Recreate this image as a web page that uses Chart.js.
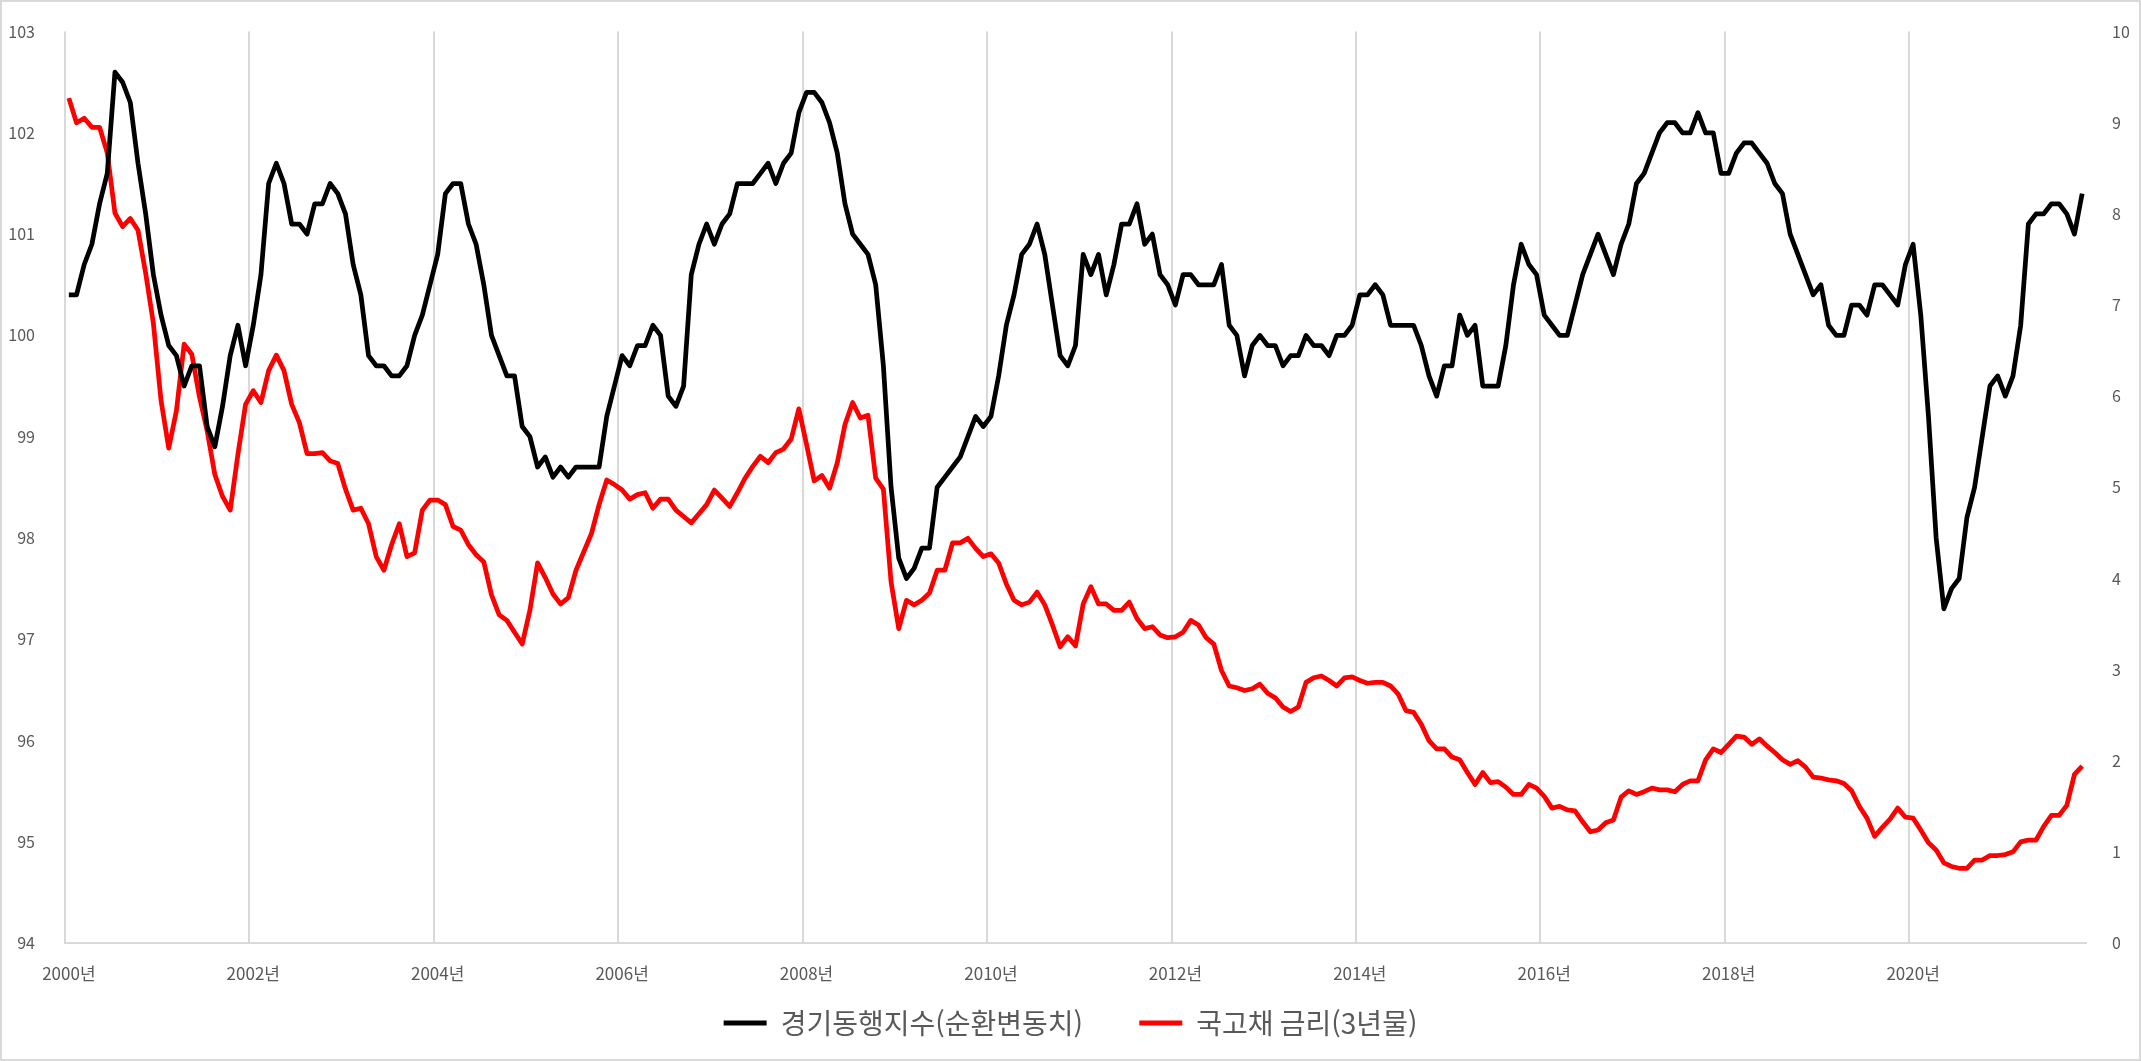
<!DOCTYPE html>
<html lang="ko">
<head>
<meta charset="utf-8">
<title>경기동행지수와 국고채 금리</title>
<script src="https://cdn.jsdelivr.net/npm/chart.js@4.4.1/dist/chart.umd.min.js"></script>
<style>
  html, body { margin: 0; padding: 0; background: #fff; }
  .chart-wrap { position: relative; width: 2141px; height: 1061px; }
  .chart-wrap canvas { position: absolute; left: 0; top: 0; }
  .frame { position: absolute; inset: 0; border: 2px solid #d9d9d9; pointer-events: none; }
</style>
</head>
<body>
<div class="chart-wrap">
  <canvas id="chart" width="2141" height="1061"></canvas>
  <div class="frame"></div>
</div>
<script>
// monthly, 2000-01 .. 2021-11
const startYear = 2000;

// 경기동행지수 순환변동치 (left axis)
const compositeIndex = [
  100.4, 100.4, 100.7, 100.9, 101.3, 101.6, 102.6, 102.5, 102.3, 101.7, 101.2, 100.6, // 2000
  100.2, 99.9, 99.8, 99.5, 99.7, 99.7, 99.1, 98.9, 99.3, 99.8, 100.1, 99.7,           // 2001
  100.1, 100.6, 101.5, 101.7, 101.5, 101.1, 101.1, 101.0, 101.3, 101.3, 101.5, 101.4, // 2002
  101.2, 100.7, 100.4, 99.8, 99.7, 99.7, 99.6, 99.6, 99.7, 100.0, 100.2, 100.5,       // 2003
  100.8, 101.4, 101.5, 101.5, 101.1, 100.9, 100.5, 100.0, 99.8, 99.6, 99.6, 99.1,     // 2004
  99.0, 98.7, 98.8, 98.6, 98.7, 98.6, 98.7, 98.7, 98.7, 98.7, 99.2, 99.5,             // 2005
  99.8, 99.7, 99.9, 99.9, 100.1, 100.0, 99.4, 99.3, 99.5, 100.6, 100.9, 101.1,        // 2006
  100.9, 101.1, 101.2, 101.5, 101.5, 101.5, 101.6, 101.7, 101.5, 101.7, 101.8, 102.2, // 2007
  102.4, 102.4, 102.3, 102.1, 101.8, 101.3, 101.0, 100.9, 100.8, 100.5, 99.7, 98.5,   // 2008
  97.8, 97.6, 97.7, 97.9, 97.9, 98.5, 98.6, 98.7, 98.8, 99.0, 99.2, 99.1,             // 2009
  99.2, 99.6, 100.1, 100.4, 100.8, 100.9, 101.1, 100.8, 100.3, 99.8, 99.7, 99.9,      // 2010
  100.8, 100.6, 100.8, 100.4, 100.7, 101.1, 101.1, 101.3, 100.9, 101.0, 100.6, 100.5, // 2011
  100.3, 100.6, 100.6, 100.5, 100.5, 100.5, 100.7, 100.1, 100.0, 99.6, 99.9, 100.0,   // 2012
  99.9, 99.9, 99.7, 99.8, 99.8, 100.0, 99.9, 99.9, 99.8, 100.0, 100.0, 100.1,         // 2013
  100.4, 100.4, 100.5, 100.4, 100.1, 100.1, 100.1, 100.1, 99.9, 99.6, 99.4, 99.7,     // 2014
  99.7, 100.2, 100.0, 100.1, 99.5, 99.5, 99.5, 99.9, 100.5, 100.9, 100.7, 100.6,      // 2015
  100.2, 100.1, 100.0, 100.0, 100.3, 100.6, 100.8, 101.0, 100.8, 100.6, 100.9, 101.1, // 2016
  101.5, 101.6, 101.8, 102.0, 102.1, 102.1, 102.0, 102.0, 102.2, 102.0, 102.0, 101.6, // 2017
  101.6, 101.8, 101.9, 101.9, 101.8, 101.7, 101.5, 101.4, 101.0, 100.8, 100.6, 100.4, // 2018
  100.5, 100.1, 100.0, 100.0, 100.3, 100.3, 100.2, 100.5, 100.5, 100.4, 100.3, 100.7, // 2019
  100.9, 100.2, 99.2, 98.0, 97.3, 97.5, 97.6, 98.2, 98.5, 99.0, 99.5, 99.6,           // 2020
  99.4, 99.6, 100.1, 101.1, 101.2, 101.2, 101.3, 101.3, 101.2, 101.0, 101.4           // 2021
];

// 국고채 금리 3년물, % (right axis)
const bondYield = [
  9.27, 9.0, 9.05, 8.95, 8.95, 8.67, 8.01, 7.86, 7.95, 7.82, 7.35, 6.8,   // 2000
  5.95, 5.43, 5.84, 6.57, 6.46, 5.99, 5.62, 5.14, 4.9, 4.75, 5.36, 5.91,  // 2001
  6.06, 5.93, 6.28, 6.45, 6.28, 5.91, 5.71, 5.37, 5.37, 5.38, 5.29, 5.26, // 2002
  4.98, 4.75, 4.77, 4.6, 4.24, 4.09, 4.37, 4.6, 4.24, 4.28, 4.75, 4.86,   // 2003
  4.86, 4.81, 4.57, 4.53, 4.37, 4.26, 4.18, 3.82, 3.6, 3.54, 3.41, 3.28,  // 2004
  3.65, 4.17, 4.01, 3.83, 3.72, 3.79, 4.09, 4.29, 4.49, 4.81, 5.08, 5.03, // 2005
  4.97, 4.87, 4.92, 4.94, 4.77, 4.87, 4.87, 4.75, 4.68, 4.61, 4.71, 4.81, // 2006
  4.97, 4.88, 4.79, 4.94, 5.1, 5.23, 5.34, 5.27, 5.38, 5.42, 5.53, 5.86,  // 2007
  5.47, 5.07, 5.13, 4.99, 5.27, 5.69, 5.93, 5.76, 5.79, 5.1, 4.98, 3.96,  // 2008
  3.45, 3.76, 3.71, 3.76, 3.84, 4.09, 4.09, 4.39, 4.39, 4.44, 4.33, 4.24, // 2009
  4.27, 4.17, 3.94, 3.76, 3.71, 3.74, 3.85, 3.71, 3.49, 3.25, 3.36, 3.26, // 2010
  3.72, 3.91, 3.72, 3.72, 3.65, 3.65, 3.74, 3.56, 3.45, 3.47, 3.38, 3.35, // 2011
  3.36, 3.41, 3.54, 3.49, 3.35, 3.28, 2.99, 2.82, 2.8, 2.77, 2.79, 2.84,  // 2012
  2.74, 2.69, 2.59, 2.54, 2.59, 2.86, 2.91, 2.93, 2.88, 2.82, 2.91, 2.92, // 2013
  2.88, 2.85, 2.86, 2.86, 2.82, 2.73, 2.55, 2.53, 2.4, 2.22, 2.13, 2.13,  // 2014
  2.04, 2.01, 1.87, 1.74, 1.87, 1.76, 1.77, 1.71, 1.63, 1.63, 1.74, 1.7,  // 2015
  1.61, 1.48, 1.5, 1.46, 1.45, 1.33, 1.22, 1.24, 1.32, 1.35, 1.6, 1.67,   // 2016
  1.63, 1.66, 1.7, 1.68, 1.68, 1.66, 1.74, 1.78, 1.78, 2.01, 2.13, 2.09,  // 2017
  2.18, 2.27, 2.26, 2.18, 2.24, 2.16, 2.09, 2.01, 1.96, 2.0, 1.93, 1.82,  // 2018
  1.81, 1.79, 1.78, 1.75, 1.67, 1.5, 1.37, 1.17, 1.27, 1.36, 1.48, 1.38,  // 2019
  1.37, 1.24, 1.1, 1.02, 0.88, 0.84, 0.82, 0.82, 0.91, 0.91, 0.96, 0.96,  // 2020
  0.97, 1.0, 1.11, 1.13, 1.13, 1.28, 1.4, 1.4, 1.51, 1.85, 1.94           // 2021
];

const seriesNames = ['경기동행지수(순환변동치)', '국고채 금리(3년물)'];

const monthLabels = compositeIndex.map((_, i) =>
  `${startYear + Math.floor(i / 12)}-${String((i % 12) + 1).padStart(2, '0')}`
);

const FONT = '"Noto Sans CJK KR", "Noto Sans", sans-serif';
const TEXT = '#595959';
const GRID = '#d9d9d9';

Chart.defaults.font.family = FONT;
Chart.defaults.color = TEXT;

const ctx = document.getElementById('chart').getContext('2d');

new Chart(ctx, {
  type: 'line',
  data: {
    labels: monthLabels,
    datasets: [
      {
        label: seriesNames[0],
        data: compositeIndex,
        yAxisID: 'y',
        borderColor: '#000000',
        backgroundColor: '#000000',
        borderWidth: 4.75,
        borderJoinStyle: 'round',
        pointRadius: 0,
        tension: 0,
      },
      {
        label: seriesNames[1],
        data: bondYield,
        yAxisID: 'y1',
        borderColor: '#ff0000',
        backgroundColor: '#ff0000',
        borderWidth: 4.75,
        borderJoinStyle: 'round',
        pointRadius: 0,
        tension: 0,
      },
    ],
  },
  options: {
    responsive: false,
    animation: false,
    devicePixelRatio: 1,
    layout: {
      padding: { top: 23, left: 0, right: 0, bottom: 14 },
    },
    scales: {
      x: {
        type: 'category',
        offset: true,
        grid: {
          offset: true,
          drawTicks: false,
          lineWidth: 2,
          // only one line every two years
          color: (c) => (c.index !== undefined && c.index % 24 === 0 ? GRID : 'rgba(0,0,0,0)'),
        },
        border: { color: GRID, width: 2 },
        ticks: {
          autoSkip: false,
          maxRotation: 0,
          minRotation: 0,
          padding: 20,
          color: TEXT,
          font: { size: 17 },
          callback: (value, index) => (index % 24 === 0 ? monthLabels[index].slice(0, 4) + '년' : ''),
        },
        afterFit: (scale) => {
          scale.height = 41;
        },
      },
      y: {
        position: 'left',
        min: 94,
        max: 103,
        grid: { display: false },
        border: { display: false },
        ticks: { stepSize: 1, padding: 22, color: TEXT, font: { size: 16 } },
        afterFit: (scale) => {
          scale.width = 65;
        },
      },
      y1: {
        position: 'right',
        min: 0,
        max: 10,
        grid: { display: false },
        border: { display: false },
        ticks: { stepSize: 1, padding: 18, color: TEXT, font: { size: 16 } },
        afterFit: (scale) => {
          scale.width = 55;
        },
      },
    },
    plugins: {
      legend: {
        position: 'bottom',
        labels: {
          boxWidth: 43,
          boxHeight: 5,
          padding: 25,
          color: TEXT,
          font: { size: 28 },
          generateLabels: (chart) =>
            Chart.defaults.plugins.legend.labels.generateLabels(chart).map((item, i) => ({
              ...item,
              // a little extra room after the first entry
              text: i === 0 ? item.text + '     ' : item.text,
              fillStyle: item.strokeStyle,
              lineWidth: 0,
            })),
        },
      },
      tooltip: { enabled: false },
    },
  },
});
</script>
</body>
</html>
